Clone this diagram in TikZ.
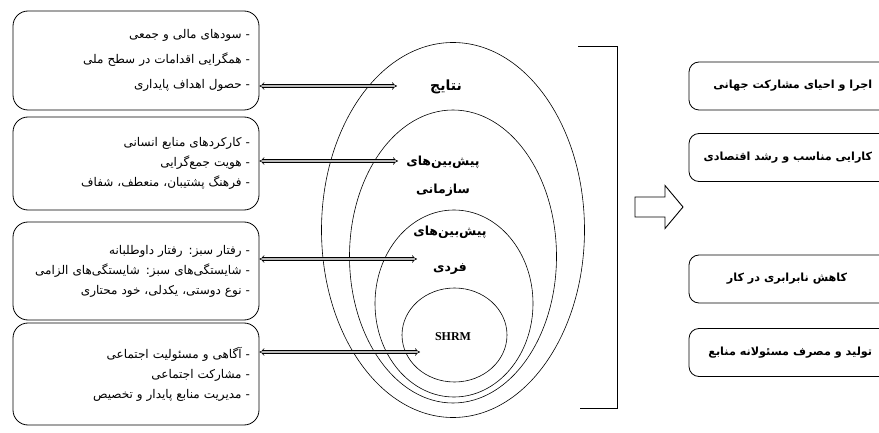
\documentclass[tikz,border=0pt]{standalone}
\usepackage{fontspec}
\newfontfamily\arabicfont[Script=Arabic]{DejaVu Sans}
\newfontfamily\timesfont{Liberation Serif}
\TeXXeTstate=1
\usepackage{tikz}
\usetikzlibrary{shapes.geometric, arrows.meta, positioning}
\newcommand{\fa}[1]{\beginR #1\endR}
\tikzstyle{lbox} = [rectangle, rounded corners=15pt, draw, line width=0.8pt, minimum width=246pt, inner xsep=9pt, text width=228pt, align=right, font=\arabicfont\fontsize{12}{20}\selectfont]
\tikzstyle{rbox} = [rectangle, rounded corners=10pt, draw, line width=0.8pt, minimum width=215pt, minimum height=48pt]
\tikzstyle{rtxt} = [inner sep=0pt, font=\arabicfont\bfseries\fontsize{11.2}{13}\selectfont]
\tikzstyle{ring} = [ellipse, draw, line width=0.6pt, inner sep=0pt]
\tikzstyle{lbl} = [font=\arabicfont\bfseries\fontsize{12.5}{28}\selectfont, align=center]
\tikzstyle{dbl} = [line width=0.6pt, double=gray!55, double distance=2pt, Implies-Implies]

\begin{document}
\begin{tikzpicture}[x=1pt, y=-1pt]
\clip (0,0) rectangle (879,433);
\node [ring, minimum width=263pt, minimum height=375pt] (res) at (453,230) {};
\node [ring, minimum width=207pt, minimum height=293pt] (org) at (453,256.5) {};
\node [ring, minimum width=158pt, minimum height=187pt] (ind) at (454,303.5) {};
\node [ring, minimum width=105pt, minimum height=94pt] (shrm) at (454.5,335) {};
\node [lbl, font=\arabicfont\bfseries\fontsize{14}{28}\selectfont] (resl) at (446,87) {\fa{نتایج}};
\node [lbl] (orgl) at (443,176) {\fa{پیش‌بین‌های}\\\fa{سازمانی}};
\node [lbl] (indl) at (450,250) {\fa{پیش‌بین‌های}\\[8pt]\fa{فردی}};
\node [font=\timesfont\bfseries\fontsize{12}{14}\selectfont] (shrml) at (453,337) {SHRM};
\node [lbox, minimum height=99pt] (b1) at (136,60.5) {\fa{- سودهای مالی و جمعی}\\[5pt]\fa{- همگرایی اقدامات در سطح ملی}\\[5pt]\fa{- حصول اهداف پایداری}};
\node [lbox, minimum height=93pt] (b2) at (136,163.5) {\fa{- کارکردهای منابع انسانی}\\\fa{- هویت جمع‌گرایی}\\\fa{- فرهنگ پشتیبان، منعطف، شفاف}};
\node [lbox, minimum height=98pt] (b3) at (136,271) {\fa{- رفتار سبز: رفتار داوطلبانه}\\\fa{- شایستگی‌های سبز: شایستگی‌های الزامی}\\\fa{- نوع دوستی، یکدلی، خود محتاری}};
\node [lbox, minimum height=102pt] (b4) at (136,374) {\fa{- آگاهی و مسئولیت اجتماعی}\\\fa{- مشارکت اجتماعی}\\\fa{- مدیریت منابع پایدار و تخصیص}};
\coordinate (t1) at (397,86);
\coordinate (t2) at (398,161);
\coordinate (t3) at (417,259);
\coordinate (t4) at (420,352);
\draw [dbl] (b1.east |- t1) to (t1);
\draw [dbl] (b2.east |- t2) to (t2);
\draw [dbl] (b3.east |- t3) to (t3);
\draw [dbl] (b4.east |- t4) to (t4);
\draw [line width=0.7pt] (578,46) -- (617,46) -- (617,408) -- (580,408);
\draw [line width=0.9pt] (635,197) -- (665,197) -- (665,185.5) -- (683,207) -- (665,228.5) -- (665,217) -- (635,217) -- cycle;
\node [rbox] (r1) at (796.5,86) {};
\node [rbox] (r2) at (796.5,157.5) {};
\node [rbox] (r3) at (796.5,279) {};
\node [rbox] (r4) at (796.5,352.5) {};
\node [rtxt, anchor=east] (r1t) at ([xshift=-32pt]r1.east) {\fa{اجرا و احیای مشارکت جهانی}};
\node [rtxt, anchor=east] (r2t) at ([xshift=-32pt]r2.east) {\fa{کارایی مناسب و رشد اقتصادی}};
\node [rtxt] (r3t) at ([xshift=-9.5pt]r3.center) {\fa{کاهش نابرابری در کار}};
\node [rtxt, anchor=east] (r4t) at ([xshift=-32pt]r4.east) {\fa{تولید و مصرف مسئولانه منابع}};
\end{tikzpicture}
\end{document}
